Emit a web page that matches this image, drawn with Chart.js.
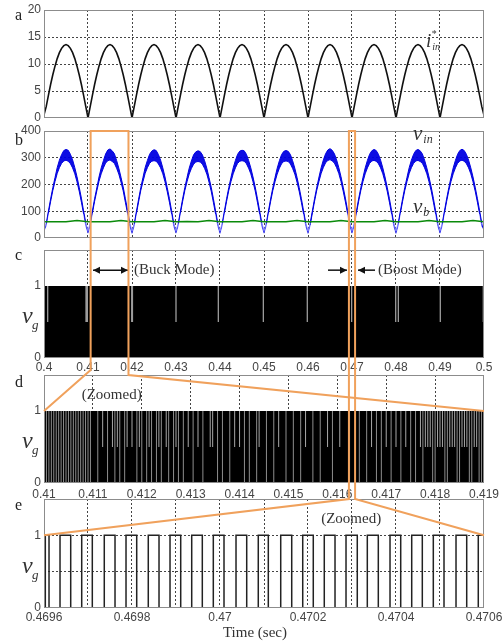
<!DOCTYPE html>
<html>
<head>
<meta charset="utf-8">
<script src="https://cdn.jsdelivr.net/npm/chart.js@4.4.1/dist/chart.umd.min.js"></script>
<style>
  html, body { margin: 0; padding: 0; background: #fff; }
  #wrap { position: relative; width: 502px; height: 644px; }
  #wrap canvas { position: absolute; left: 0; top: 0; }
</style>
</head>
<body>
<div id="wrap">
  <canvas id="pa" width="502" height="644"></canvas>
  <canvas id="pb" width="502" height="644"></canvas>
  <canvas id="pc" width="502" height="644"></canvas>
  <canvas id="pd" width="502" height="644"></canvas>
  <canvas id="pe" width="502" height="644"></canvas>
</div>
<script>
// Sampling of the slow waveforms (panels a and b)
const T0 = 0.4, DT = 0.0005;

// a: reference current i*in (A), every 0.5 ms from 0.4 s
const iRef = [
  0.6, 2.1, 4.2, 6.2, 8.0, 9.6, 11.0, 12.1, 12.9, 13.4, 13.6, 13.4, 12.9, 12.1, 11.0, 9.6, 8.0, 6.2, 4.2, 2.1,
  0, 2.1, 4.2, 6.2, 8.0, 9.6, 11.0, 12.1, 12.9, 13.4, 13.6, 13.4, 12.9, 12.1, 11.0, 9.6, 8.0, 6.2, 4.2, 2.1,
  0, 2.1, 4.2, 6.2, 8.0, 9.6, 11.0, 12.1, 12.9, 13.4, 13.6, 13.4, 12.9, 12.1, 11.0, 9.6, 8.0, 6.2, 4.2, 2.1,
  0, 2.1, 4.2, 6.2, 8.0, 9.6, 11.0, 12.1, 12.9, 13.4, 13.6, 13.4, 12.9, 12.1, 11.0, 9.6, 8.0, 6.2, 4.2, 2.1,
  0, 2.1, 4.2, 6.2, 8.0, 9.6, 11.0, 12.1, 12.9, 13.4, 13.6, 13.4, 12.9, 12.1, 11.0, 9.6, 8.0, 6.2, 4.2, 2.1,
  0, 2.1, 4.2, 6.2, 8.0, 9.6, 11.0, 12.1, 12.9, 13.4, 13.6, 13.4, 12.9, 12.1, 11.0, 9.6, 8.0, 6.2, 4.2, 2.1,
  0, 2.1, 4.2, 6.2, 8.0, 9.6, 11.0, 12.1, 12.9, 13.4, 13.6, 13.4, 12.9, 12.1, 11.0, 9.6, 8.0, 6.2, 4.2, 2.1,
  0, 2.1, 4.2, 6.2, 8.0, 9.6, 11.0, 12.1, 12.9, 13.4, 13.6, 13.4, 12.9, 12.1, 11.0, 9.6, 8.0, 6.2, 4.2, 2.1,
  0, 2.1, 4.2, 6.2, 8.0, 9.6, 11.0, 12.1, 12.9, 13.4, 13.6, 13.4, 12.9, 12.1, 11.0, 9.6, 8.0, 6.2, 4.2, 2.1,
  0, 2.1, 4.2, 6.2, 8.0, 9.6, 11.0, 12.1, 12.9, 13.4, 13.6, 13.4, 12.9, 12.1, 11.0, 9.6, 8.0, 6.2, 4.2, 2.1,
  0.5
];

// b: input voltage vin (V), upper and lower edge of the ripple band
const vinHi = [
  34, 54, 100, 146, 188, 226, 263, 291, 312, 327, 331, 328, 313, 292, 263, 229, 190, 149, 101, 57,
  27, 55, 101, 147, 187, 228, 262, 289, 314, 329, 333, 326, 315, 290, 261, 227, 191, 147, 103, 56,
  26, 53, 99, 145, 189, 227, 264, 290, 313, 325, 330, 327, 312, 291, 262, 228, 189, 148, 102, 55,
  27, 54, 100, 146, 188, 226, 261, 288, 311, 322, 326, 323, 311, 289, 261, 226, 190, 147, 101, 56,
  26, 55, 101, 147, 189, 227, 262, 290, 313, 325, 328, 326, 313, 290, 262, 228, 191, 148, 102, 57,
  27, 54, 100, 146, 188, 226, 261, 289, 312, 324, 327, 324, 312, 289, 261, 227, 189, 147, 101, 56,
  26, 56, 102, 148, 190, 228, 264, 292, 315, 329, 334, 328, 315, 292, 263, 229, 190, 149, 103, 57,
  27, 54, 100, 146, 188, 227, 262, 290, 313, 326, 331, 327, 313, 291, 262, 228, 190, 148, 102, 56,
  26, 55, 101, 147, 189, 227, 263, 291, 313, 327, 331, 326, 314, 291, 262, 228, 191, 148, 102, 56,
  27, 54, 100, 146, 188, 227, 262, 290, 313, 327, 332, 327, 313, 291, 262, 228, 190, 148, 102, 56,
  40
];
const vinLo = [
  26, 46, 92, 136, 177, 211, 241, 263, 279, 288, 291, 287, 278, 262, 240, 210, 175, 134, 90, 45,
  18, 47, 93, 137, 176, 212, 240, 262, 280, 289, 292, 286, 279, 261, 239, 209, 176, 133, 91, 44,
  17, 45, 91, 135, 178, 211, 242, 263, 279, 287, 289, 287, 277, 262, 240, 210, 174, 134, 90, 43,
  18, 46, 92, 136, 177, 210, 239, 260, 276, 284, 286, 284, 276, 260, 239, 209, 175, 133, 89, 44,
  17, 47, 93, 137, 178, 211, 240, 262, 279, 287, 289, 287, 278, 261, 240, 210, 176, 134, 90, 45,
  18, 46, 92, 136, 177, 210, 239, 261, 278, 286, 288, 286, 277, 260, 239, 209, 174, 133, 89, 44,
  17, 48, 94, 138, 179, 212, 242, 264, 281, 290, 293, 288, 280, 263, 241, 211, 175, 135, 91, 45,
  18, 46, 92, 136, 177, 211, 240, 262, 279, 288, 290, 287, 278, 262, 240, 210, 175, 134, 90, 44,
  17, 47, 93, 137, 178, 211, 241, 263, 279, 288, 290, 286, 279, 262, 240, 210, 176, 134, 90, 44,
  18, 46, 92, 136, 177, 211, 240, 262, 279, 288, 291, 287, 278, 262, 240, 210, 175, 134, 90, 44,
  30
];
// b: dc-link voltage vb (V), every 2.5 ms
const VB_DT = 0.0025;
const vb = [
  61, 61, 61, 65, 61, 61, 61, 65, 61, 61, 61, 65, 61, 62, 61, 65, 61, 61, 61, 65,
  61, 61, 61, 65, 61, 61, 61, 65, 61, 61, 61, 65, 61, 61, 61, 65, 61, 61, 61, 65, 61
];

// c: gate signal over 0.4..0.5 s, switching gaps that show up (s)
const gapsC = [0.40084, 0.40955, 0.40985, 0.41993, 0.4201, 0.43, 0.43962, 0.44985,
  0.45984, 0.46992, 0.47993, 0.48053, 0.49007, 0.49984];

// d: gate signal over 0.41..0.419 s, off-times through the whole pulse and upper half only
const gapsDFull = [
  0.41005, 0.4101, 0.41015, 0.4102, 0.41025, 0.4103, 0.41035, 0.4104, 0.41045, 0.4105,
  0.41055, 0.4106, 0.41065, 0.4107, 0.41075, 0.4108, 0.41085, 0.4109, 0.41095,
  0.4111, 0.4113, 0.41145, 0.41155, 0.41165, 0.4119, 0.412, 0.4121, 0.4122, 0.4123,
  0.4124, 0.41255, 0.41265, 0.41275, 0.41285, 0.41305, 0.41325, 0.41355, 0.41365, 0.4138,
  0.4141, 0.4142, 0.41435, 0.41455, 0.4147, 0.41495, 0.4151, 0.41525, 0.4155, 0.41565,
  0.4159, 0.41625, 0.41645, 0.4166, 0.4168, 0.4169, 0.4171, 0.4173, 0.4175, 0.4176,
  0.41775, 0.41795, 0.418, 0.4182, 0.41825, 0.41845, 0.4185, 0.4187, 0.41875, 0.4189, 0.41895
];
const gapsDHalf = [
  0.4112, 0.4114, 0.4115, 0.4117, 0.4118, 0.41195, 0.41215, 0.41235, 0.4125, 0.4127,
  0.41295, 0.41315, 0.4134, 0.41345, 0.4139, 0.414, 0.4144, 0.4148, 0.41535, 0.4158,
  0.41605, 0.4167, 0.417, 0.4172, 0.4174, 0.4177, 0.4178, 0.41785, 0.4179, 0.41805,
  0.4181, 0.41815, 0.4183, 0.41835, 0.4184, 0.41855, 0.4186, 0.41865, 0.4188, 0.41885
];

// e: gate signal over 0.4696..0.4706 s, switching instants and the level after each
const eTimes = [
  0.4696, 0.469603, 0.4696114, 0.4696364, 0.4696607, 0.4696857, 0.4697098, 0.469737, 0.4697614,
  0.4697864, 0.4698107, 0.469837, 0.4698614, 0.4698864, 0.4699107, 0.4699357, 0.4699598,
  0.4699848, 0.4700091, 0.4700364, 0.4700607, 0.470087, 0.4701098, 0.470138, 0.470163,
  0.470188, 0.470212, 0.470237, 0.4702614, 0.4702864, 0.470312, 0.4703348, 0.4703598,
  0.4703864, 0.4704107, 0.4704357, 0.4704598, 0.4704848, 0.4705091, 0.4705364, 0.4705607,
  0.470587, 0.4706
];
const eLevels = [
  0, 1, 0, 1, 0, 1, 0, 1, 0,
  1, 0, 1, 0, 1, 0, 1, 0,
  1, 0, 1, 0, 1, 0, 1, 0,
  1, 0, 1, 0, 1, 0, 1, 0,
  1, 0, 1, 0, 1, 0, 1, 0,
  1, 1
];

// Text marks, in each panel's data coordinates
const symA = [{ x: 0.48682, y: 13.15, base: 'i', sup: '*', sub: 'in', size: 19 }];
const symB = [{ x: 0.48386, y: 366, base: 'v', sub: 'in', size: 21 },
              { x: 0.48386, y: 94, base: 'v', sub: 'b', size: 21 }];
const textC = [{ x: 0.42045, y: 1.22, text: '(Buck Mode)' }, { x: 0.47591, y: 1.22, text: '(Boost Mode)' }];
const arrowsC = [{ from: 0.41114, to: 0.41909, y: 1.22, both: true },
                 { from: 0.46455, to: 0.46886, y: 1.22 },
                 { from: 0.47523, to: 0.47136, y: 1.22 }];
const textD = [{ x: 0.41077, y: 1.22, text: '(Zoomed)' }];
const textE = [{ x: 0.47023, y: 1.22, text: '(Zoomed)' }];
// zoom windows as drawn on panel b (s)
const boxToD = [0.4106, 0.4192];
const boxToE = [0.4693, 0.4707];

// Layout
const W = 502, H = 644, PLOT_L = 44, PLOT_R = 484, XAXIS_H = 20;
const ORANGE = '#f0a15c';
const SERIF = '"Liberation Serif", "Times New Roman", serif';
const TICK_FONT = { family: '"Liberation Sans", Arial, sans-serif', size: 12 };
Chart.defaults.font.family = TICK_FONT.family;

function series(t0, dt, values) {
  return values.map((v, i) => ({ x: t0 + i * dt, y: v }));
}
function spikes(times, y0, y1) {
  const pts = [];
  times.forEach(t => pts.push({ x: t, y: y0 }, { x: t, y: y1 }, { x: t, y: null }));
  return pts;
}
const innerGrid = c => (c.index === 0 || c.index === c.scale.ticks.length - 1) ? 'rgba(0,0,0,0)' : '#444';

function panelOptions(top, bottom, x, y) {
  return {
    responsive: false, animation: false, events: [],
    layout: { padding: { top: top, bottom: H - bottom - XAXIS_H, left: 0, right: W - PLOT_R } },
    plugins: { legend: { display: false }, tooltip: { enabled: false } },
    elements: { point: { radius: 0 } },
    scales: {
      x: {
        type: 'linear', min: x.min, max: x.max,
        afterFit: s => { s.height = XAXIS_H; s.paddingLeft = 0; s.paddingRight = 0; },
        ticks: { stepSize: x.step, autoSkip: false, maxRotation: 0, minRotation: 0,
                 display: !!x.label, callback: x.label || (() => ''), padding: x.pad || 2,
                 font: TICK_FONT, color: '#444' },
        grid: { color: innerGrid, drawTicks: false },
        border: { display: false, dash: [2, 2] }
      },
      y: {
        min: y.min, max: y.max,
        afterFit: s => { s.width = PLOT_L; s.paddingTop = 0; s.paddingBottom = 0; },
        ticks: { stepSize: y.step, autoSkip: false, callback: y.label || (v => String(v)),
                 padding: 3, font: TICK_FONT, color: '#444' },
        grid: { color: innerGrid, drawTicks: false },
        border: { display: false, dash: [2, 2] }
      }
    }
  };
}

function drawSym(ctx, px, py, s) {
  ctx.fillStyle = '#333';
  ctx.textAlign = 'left';
  ctx.textBaseline = 'alphabetic';
  ctx.font = `italic ${s.size}px ${SERIF}`;
  ctx.fillText(s.base, px, py);
  const w = ctx.measureText(s.base).width;
  ctx.font = `italic ${Math.round(s.size * 0.55)}px ${SERIF}`;
  if (s.sub) ctx.fillText(s.sub, px + w + 1, py + Math.round(s.size * 0.15));
  if (s.sup) ctx.fillText(s.sup, px + w, py - Math.round(s.size * 0.55));
}

function arrowHead(ctx, x, y, dir) {
  ctx.beginPath();
  ctx.moveTo(x, y);
  ctx.lineTo(x - dir * 7, y - 3.5);
  ctx.lineTo(x - dir * 7, y + 3.5);
  ctx.closePath();
  ctx.fill();
}

// frame, panel letter, y title and text marks
function decor(cfg) {
  return {
    id: 'decor',
    afterDatasetsDraw(chart) {
      const { ctx, chartArea: a, scales: { x, y } } = chart;
      ctx.save();
      ctx.strokeStyle = '#8c8c8c';
      ctx.lineWidth = 1;
      ctx.strokeRect(Math.round(a.left) + 0.5, Math.round(a.top) + 0.5,
                     Math.round(a.right - a.left) - 1, Math.round(a.bottom - a.top) - 1);

      ctx.fillStyle = '#222';
      ctx.font = `16px ${SERIF}`;
      ctx.textAlign = 'left';
      ctx.textBaseline = 'alphabetic';
      ctx.fillText(cfg.letter, a.left - 29, a.top + cfg.letterDy);

      if (cfg.vg) {
        const mid = (a.top + a.bottom) / 2;
        ctx.fillStyle = '#333';
        ctx.font = `italic 24px ${SERIF}`;
        ctx.fillText('v', a.left - 22, mid + 19);
        ctx.font = `italic 13px ${SERIF}`;
        ctx.fillText('g', a.left - 12, mid + 25);
      }
      (cfg.syms || []).forEach(s => drawSym(ctx, x.getPixelForValue(s.x), y.getPixelForValue(s.y), s));

      ctx.fillStyle = '#333';
      ctx.font = `15px ${SERIF}`;
      ctx.textBaseline = 'middle';
      (cfg.texts || []).forEach(t => ctx.fillText(t.text, x.getPixelForValue(t.x), y.getPixelForValue(t.y)));

      ctx.strokeStyle = '#111';
      ctx.fillStyle = '#111';
      ctx.lineWidth = 1.5;
      (cfg.arrows || []).forEach(ar => {
        const x1 = x.getPixelForValue(ar.from), x2 = x.getPixelForValue(ar.to), py = y.getPixelForValue(ar.y);
        const dir = Math.sign(x2 - x1);
        ctx.beginPath();
        ctx.moveTo(x1, py);
        ctx.lineTo(x2, py);
        ctx.stroke();
        arrowHead(ctx, x2, py, dir);
        if (ar.both) arrowHead(ctx, x1, py, -dir);
      });

      if (cfg.xTitle) {
        ctx.fillStyle = '#333';
        ctx.font = `15px ${SERIF}`;
        ctx.textAlign = 'center';
        ctx.textBaseline = 'alphabetic';
        ctx.fillText(cfg.xTitle, (a.left + a.right) / 2 - 9, a.bottom + 29);
      }
      ctx.restore();
    }
  };
}

const charts = {};
const slowX = { min: 0.4, max: 0.5, step: 0.01 };
const gateY = { min: 0, max: 1.5, step: 0.5, label: v => (v === 0 || v === 1) ? String(v) : '' };

// a
charts.a = new Chart(document.getElementById('pa'), {
  type: 'line',
  data: { datasets: [{ data: series(T0, DT, iRef), borderColor: '#111', borderWidth: 1.6 }] },
  options: panelOptions(10, 118, slowX, { min: 0, max: 20, step: 5 }),
  plugins: [decor({ letter: 'a', letterDy: 10, syms: symA })]
});

// b  (Chart.js paints dataset 0 last, so it sits on top)
const trough = c => (c.p0.parsed.y < 48 || c.p1.parsed.y < 48) ? '#8585ff' : '#0000e0';
charts.b = new Chart(document.getElementById('pb'), {
  type: 'line',
  data: { datasets: [
    { data: series(T0, VB_DT, vb), borderColor: '#0a8a0a', borderWidth: 1.5 },
    { data: series(T0, DT, vinHi), borderColor: '#0000e0', borderWidth: 1, fill: '+1',
      backgroundColor: 'rgba(0,0,225,0.95)', segment: { borderColor: trough } },
    { data: series(T0, DT, vinLo), borderColor: '#0000e0', borderWidth: 1, segment: { borderColor: trough } }
  ] },
  options: panelOptions(131, 238, slowX, { min: 0, max: 400, step: 100 }),
  plugins: [decor({ letter: 'b', letterDy: 14, syms: symB })]
});

// c
charts.c = new Chart(document.getElementById('pc'), {
  type: 'line',
  data: { datasets: [
    { data: spikes(gapsC, 0.5, 1), borderColor: '#9c9c9c', borderWidth: 1.3 },
    { data: [{ x: 0.4, y: 1 }, { x: 0.5, y: 1 }], borderWidth: 0, fill: 'origin', backgroundColor: '#000' }
  ] },
  options: panelOptions(250, 358, { ...slowX, pad: 2, label: v => String(+v.toFixed(2)) }, gateY),
  plugins: [decor({ letter: 'c', letterDy: 10, vg: true, texts: textC, arrows: arrowsC })]
});

// d
charts.d = new Chart(document.getElementById('pd'), {
  type: 'line',
  data: { datasets: [
    { data: spikes(gapsDFull, 0, 1), borderColor: '#8e8e8e', borderWidth: 1 },
    { data: spikes(gapsDHalf, 0.5, 1), borderColor: '#a8a8a8', borderWidth: 1 },
    { data: [{ x: 0.41, y: 1 }, { x: 0.419, y: 1 }], borderWidth: 0, fill: 'origin', backgroundColor: '#000' }
  ] },
  options: panelOptions(375, 483, { min: 0.41, max: 0.419, step: 0.001, pad: 4, label: v => String(+v.toFixed(3)) }, gateY),
  plugins: [decor({ letter: 'd', letterDy: 12, vg: true, texts: textD })]
});

// orange zoom guides, drawn on the top canvas across panels b..e
const zoomLines = {
  id: 'zoomLines',
  afterDraw(chart) {
    const b = charts.b, d = charts.d, e = chart, ctx = chart.ctx;
    const top = b.chartArea.top;
    ctx.save();
    ctx.strokeStyle = ORANGE;
    ctx.lineWidth = 2;

    let x1 = b.scales.x.getPixelForValue(boxToD[0]), x2 = b.scales.x.getPixelForValue(boxToD[1]);
    let yL = d.chartArea.top - 5, yR = d.chartArea.top, y1 = d.scales.y.getPixelForValue(1);
    ctx.beginPath();
    ctx.moveTo(d.chartArea.left, y1);
    ctx.lineTo(x1, yL); ctx.lineTo(x1, top); ctx.lineTo(x2, top); ctx.lineTo(x2, yR);
    ctx.lineTo(d.chartArea.right, y1);
    ctx.stroke();

    x1 = b.scales.x.getPixelForValue(boxToE[0]); x2 = b.scales.x.getPixelForValue(boxToE[1]);
    yL = yR = e.chartArea.top; y1 = e.scales.y.getPixelForValue(1);
    ctx.beginPath();
    ctx.moveTo(e.chartArea.left, y1);
    ctx.lineTo(x1, yL); ctx.lineTo(x1, top); ctx.lineTo(x2, top); ctx.lineTo(x2, yR);
    ctx.lineTo(e.chartArea.right, y1);
    ctx.stroke();
    ctx.restore();
  }
};

// e
charts.e = new Chart(document.getElementById('pe'), {
  type: 'line',
  data: { datasets: [{
    data: eTimes.map((t, i) => ({ x: t, y: eLevels[i] })),
    stepped: 'before', borderColor: '#222', borderWidth: 1.5
  }] },
  options: panelOptions(499, 608, {
    min: 0.4696, max: 0.4706, step: 0.0001, pad: 2,
    label: v => Math.round(v * 1e4) % 2 === 0 ? String(+v.toFixed(4)) : ''
  }, gateY),
  plugins: [decor({ letter: 'e', letterDy: 11, vg: true, texts: textE, xTitle: 'Time (sec)' }), zoomLines]
});
</script>
</body>
</html>
